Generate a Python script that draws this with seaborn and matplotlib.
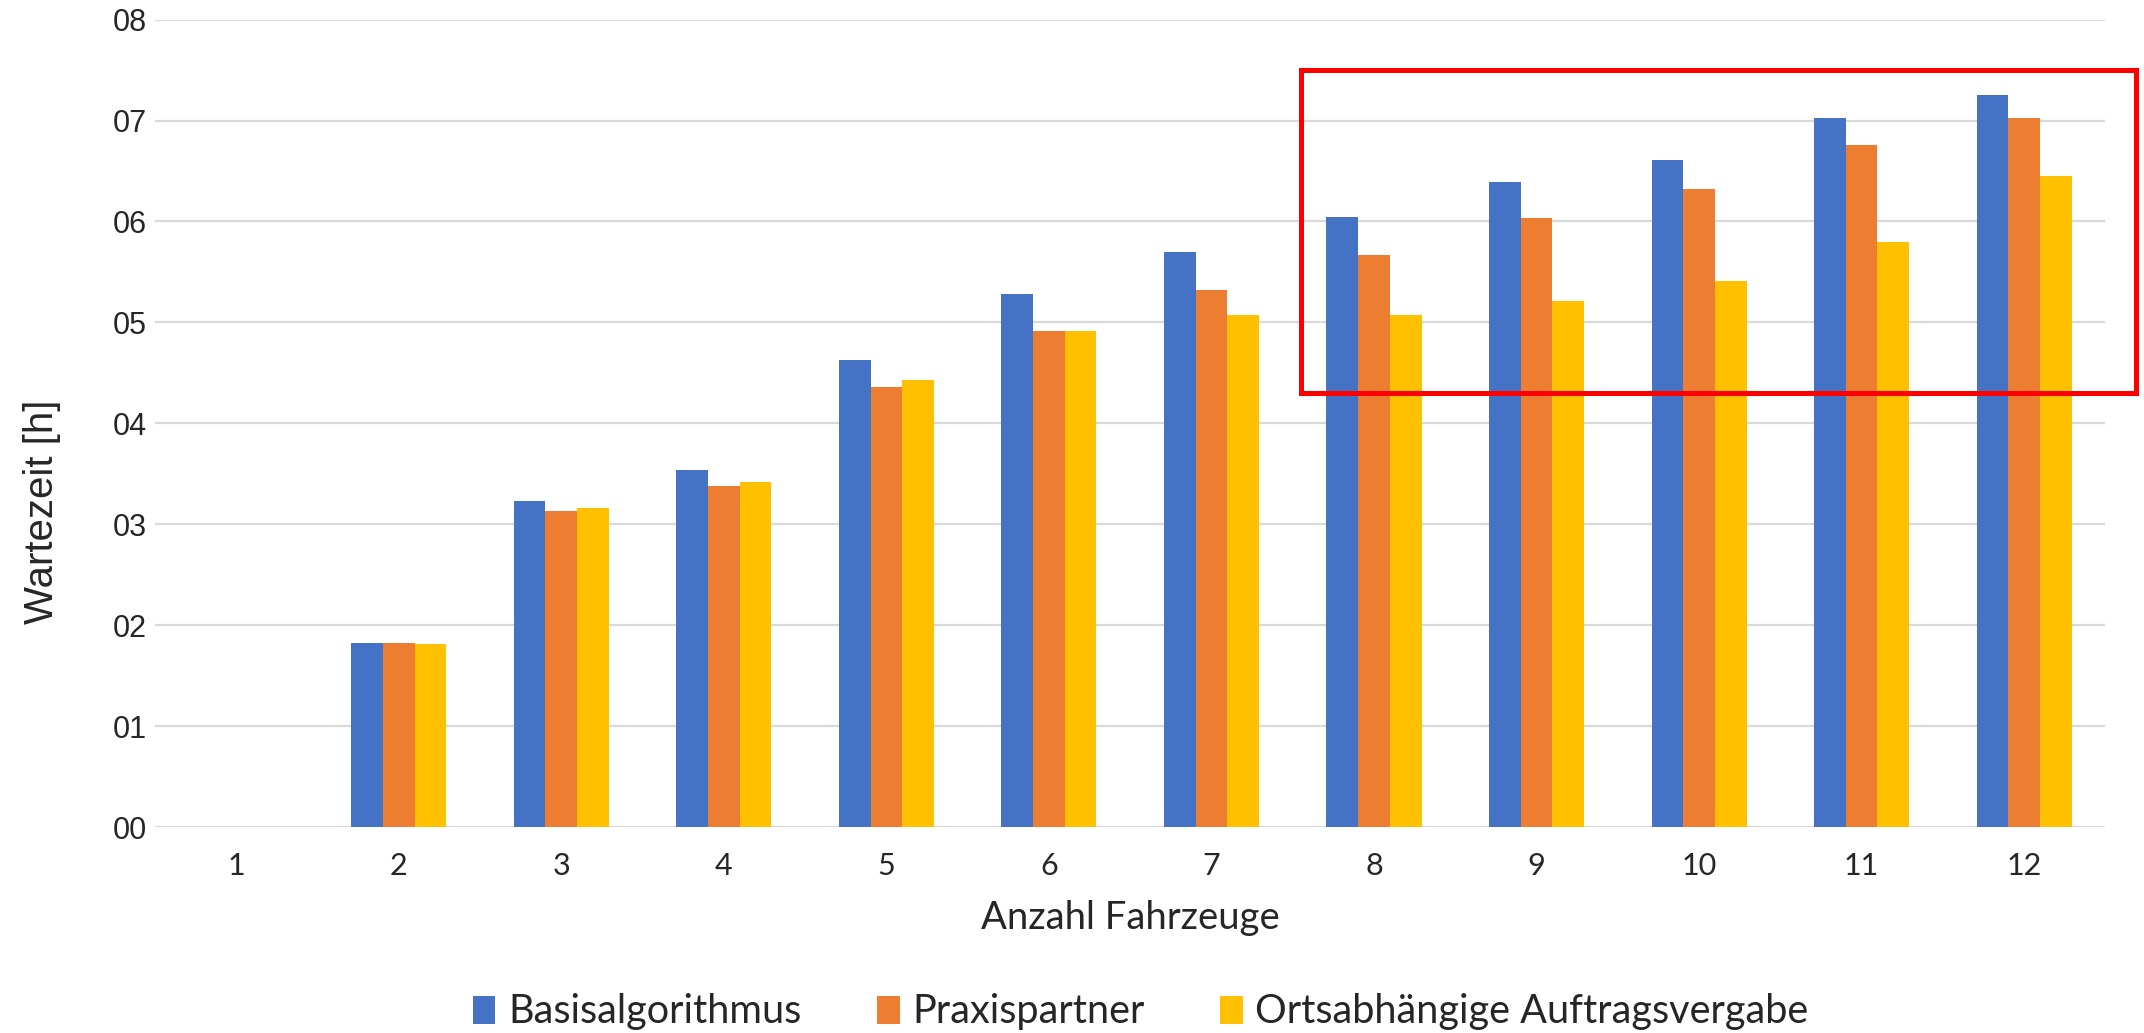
import matplotlib.pyplot as plt
import matplotlib
from matplotlib.patches import Rectangle
import seaborn as sns
import pandas as pd

# data
fahrzeuge = ['1', '2', '3', '4', '5', '6', '7', '8', '9', '10', '11', '12']
basis = [0, 1.82, 3.23, 3.54, 4.63, 5.28, 5.70, 6.04, 6.39, 6.61, 7.03, 7.25]
praxis = [0, 1.82, 3.13, 3.38, 4.36, 4.91, 5.32, 5.67, 6.03, 6.32, 6.76, 7.03]
orts = [0, 1.81, 3.16, 3.42, 4.43, 4.91, 5.07, 5.07, 5.21, 5.41, 5.80, 6.45]
series_names = ['Basisalgorithmus', 'Praxispartner', 'Ortsabhängige Auftragsvergabe']
y_ticks = [0, 1, 2, 3, 4, 5, 6, 7, 8]

# highlighted region (category index / hours)
box_x = (6.55, 11.69)
box_y = (4.30, 7.50)

colors = ['#4472C4', '#ED7D31', '#FFC000']

sns.set_theme(style='white')
plt.rcParams['font.family'] = ['Liberation Sans', 'DejaVu Sans']

df = pd.DataFrame({
    'Anzahl Fahrzeuge': fahrzeuge * 3,
    'Wartezeit': basis + praxis + orts,
    'Serie': [s for s in series_names for _ in fahrzeuge],
})

fig = plt.figure(figsize=(21.44, 10.33), dpi=100)
ax = fig.add_axes([0.0723, 0.1994, 0.9097, 0.7816])

sns.barplot(data=df, x='Anzahl Fahrzeuge', y='Wartezeit', hue='Serie',
            hue_order=series_names, palette=colors, width=0.585,
            linewidth=0, saturation=1, ax=ax, legend=True)

ax.set_xlim(-0.5, 11.5)
ax.set_ylim(0, 8)
ax.set_yticks(y_ticks)
ax.set_yticklabels(['{:02d}'.format(t) for t in y_ticks], fontsize=22)
ax.yaxis.grid(True, color='#D9D9D9', linewidth=1.6)
ax.set_axisbelow(True)
for s in ax.spines.values():
    s.set_visible(False)
ax.tick_params(axis='y', length=0, pad=6)
ax.tick_params(axis='x', length=0, pad=18)
for lbl in ax.get_xticklabels():
    lbl.set_fontfamily(['Lato', 'DejaVu Sans'])
    lbl.set_fontsize(22)

ax.set_xlabel('Anzahl Fahrzeuge', fontsize=27.5, family=['Lato', 'DejaVu Sans'])
ax.xaxis.set_label_coords(0.5, -0.113)
ax.xaxis.label.set_va('center')
ax.set_ylabel('Wartezeit [h]', fontsize=29)
ax.yaxis.set_label_coords(-0.058, 0.39)
ax.yaxis.label.set_va('center')

ax.add_patch(Rectangle((box_x[0], box_y[0]), box_x[1] - box_x[0], box_y[1] - box_y[0],
                       fill=False, edgecolor='#FF0000', linewidth=3.6, clip_on=False, zorder=5))

handles, labels = ax.get_legend_handles_labels()
ax.get_legend().remove()
fig.legend(handles, labels, loc='center', bbox_to_anchor=(0.532, 1 - 1012 / 1033), ncol=3,
           frameon=False, prop={'family': ['Lato', 'DejaVu Sans'], 'size': 28.5},
           handlelength=0.58, handleheight=0.72, handletextpad=0.32, columnspacing=1.9)

fig.savefig('out.png', dpi=100)
